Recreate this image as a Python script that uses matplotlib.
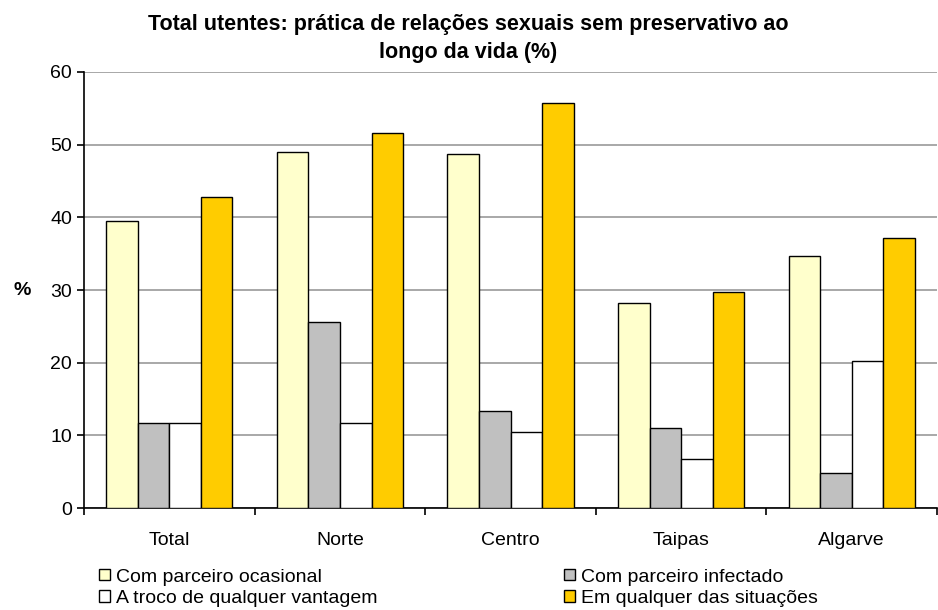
# Total utentes: relações sexuais sem preservativo ao longo da vida
import numpy as np
import matplotlib.pyplot as plt
from matplotlib.patches import Patch

plt.rcParams["font.family"] = ["Liberation Sans", "DejaVu Sans"]

# Data
regions = ["Total", "Norte", "Centro", "Taipas", "Algarve"]
ocasional = [39.5, 49.0, 48.7, 28.2, 34.7]
infectado = [11.7, 25.6, 13.3, 11.0, 4.8]
vantagem = [11.7, 11.7, 10.5, 6.7, 20.2]
qualquer = [42.8, 51.6, 55.8, 29.7, 37.1]

labels = ["Com parceiro ocasional", "Com parceiro infectado",
          "A troco de qualquer vantagem", "Em qualquer das situações"]
colors = ["#FFFFCC", "#C0C0C0", "#FFFFFF", "#FFCC00"]
series = [ocasional, infectado, vantagem, qualquer]

fig = plt.figure(figsize = (9.38, 6.1), dpi = 100)
ax = fig.add_axes([0.0896, 0.167, 0.9094, 0.715])

x = np.arange(len(regions))
width = 0.185
for i, (vals, col) in enumerate(zip(series, colors)):
    ax.bar(x + (i - 1.5) * width, vals, width, color = col,
           edgecolor = "black", linewidth = 1.0, zorder = 3)

ax.set_xlim(-0.5, len(regions) - 0.5)
ax.set_ylim(0, 60)
ax.set_yticks(np.arange(0, 61, 10))
ax.yaxis.grid(True, color = "#999999", linewidth = 1.2, zorder = 0)

# category labels centred, tick marks on the boundaries
ax.set_xticks(np.arange(-0.5, len(regions)), minor = False)
ax.set_xticklabels([])
ax.set_xticks(x, minor = True)
ax.set_xticklabels(regions, minor = True, fontsize = 14)
ax.tick_params(axis = "x", which = "minor", length = 0, pad = 17)
ax.tick_params(axis = "x", which = "major", length = 5, width = 1.2)
ax.tick_params(axis = "y", length = 5, width = 1.2, labelsize = 14)

for s in ["top", "right"]:
    ax.spines[s].set_visible(False)
for s in ["left", "bottom"]:
    ax.spines[s].set_linewidth(1.2)

ax.set_ylabel("%", rotation = 0, fontsize = 14, fontweight = "bold")
ax.yaxis.set_label_coords(-0.073, 0.48)

fig.text(0.499, 0.937, "Total utentes: prática de relações sexuais sem preservativo ao\nlongo da vida (%)",
         ha = "center", va = "center", fontsize = 15.5, fontweight = "bold", linespacing = 1.45)

handles = [Patch(facecolor = c, edgecolor = "black", linewidth = 1.0) for c in colors]
order = [0, 2, 1, 3]
fig.legend([handles[i] for i in order], [labels[i] for i in order],
           ncol = 2, loc = "upper left", bbox_to_anchor = (0.106, 0.068),
           frameon = False, fontsize = 14, handlelength = 0.55, handleheight = 0.55,
           handletextpad = 0.3, columnspacing = 9.6, labelspacing = 0.22,
           borderpad = 0, borderaxespad = 0)

plt.savefig("out.png", dpi = 100)
